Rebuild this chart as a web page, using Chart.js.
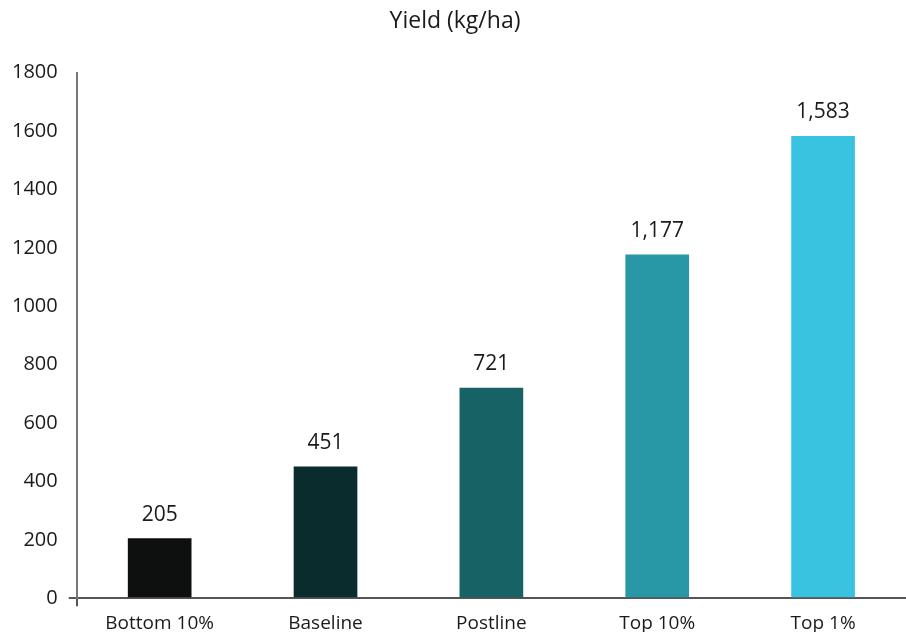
<!DOCTYPE html>
<html>
<head>
<meta charset="utf-8">
<script src="https://cdn.jsdelivr.net/npm/chart.js@4"></script>
<style>
  html, body { margin: 0; padding: 0; background: #fff; overflow: hidden; }
  #wrap { width: 906px; height: 632px; }
</style>
</head>
<body>
<div id="wrap"><canvas id="chart"></canvas></div>
<script>
const categories = ['Bottom 10%', 'Baseline', 'Postline', 'Top 10%', 'Top 1%'];
const yieldValues = [205, 451, 721, 1177, 1583];
const barColors = ['#0e100f', '#0a2c2d', '#166265', '#2898a7', '#3ac3e1'];
const yTicks = [0, 200, 400, 600, 800, 1000, 1200, 1400, 1600, 1800];

const FONT = '"Open Sans", sans-serif';

// draws the value above every bar
const valueLabels = {
  id: 'valueLabels',
  afterDatasetsDraw(chart) {
    const { ctx } = chart;
    const meta = chart.getDatasetMeta(0);
    ctx.save();
    ctx.font = '21px ' + FONT;
    ctx.fillStyle = '#1a1a1a';
    ctx.textAlign = 'center';
    ctx.textBaseline = 'bottom';
    meta.data.forEach((bar, i) => {
      const v = chart.data.datasets[0].data[i];
      ctx.fillText(v.toLocaleString('en-US'), bar.x, bar.y - 13);
    });
    ctx.restore();
  }
};

new Chart(document.getElementById('chart'), {
  type: 'bar',
  data: {
    labels: categories,
    datasets: [{
      label: 'Yield (kg/ha)',
      data: yieldValues,
      backgroundColor: barColors,
      borderWidth: 0,
      barPercentage: 1,
      categoryPercentage: 0.384,
    }],
  },
  options: {
    responsive: true,
    maintainAspectRatio: false,
    animation: false,
    layout: { padding: { left: 1, right: -3, top: 8, bottom: -9 } },
    plugins: {
      legend: { display: false },
      tooltip: { enabled: false },
      title: {
        display: true,
        text: 'Yield (kg/ha)',
        color: '#1a1a1a',
        font: { family: FONT, size: 23, weight: 'normal' },
        padding: { top: 0, bottom: 37 },
      },
    },
    scales: {
      x: {
        offset: true,
        border: { display: true, color: '#555', width: 2 },
        grid: {
          offset: true,
          drawOnChartArea: false,
          drawTicks: true,
          tickLength: 8,
          lineWidth: 2,
          color: (c) => (c.index === 0 ? '#555' : 'rgba(0,0,0,0)'),
        },
        ticks: {
          color: '#1a1a1a',
          padding: 6,
          font: { family: FONT, size: 19 },
        },
      },
      y: {
        min: 0,
        max: 1800,
        afterBuildTicks: (axis) => { axis.ticks = yTicks.map((v) => ({ value: v })); },
        border: { display: true, color: '#777', width: 2 },
        grid: {
          drawOnChartArea: false,
          drawTicks: true,
          tickLength: 8,
          lineWidth: 2,
          color: (c) => (c.tick && c.tick.value === 0 ? '#555' : 'rgba(0,0,0,0)'),
        },
        ticks: {
          color: '#1a1a1a',
          padding: 11,
          font: { family: FONT, size: 20 },
          callback: (v) => String(v),
        },
      },
    },
  },
  plugins: [valueLabels],
});
</script>
</body>
</html>
